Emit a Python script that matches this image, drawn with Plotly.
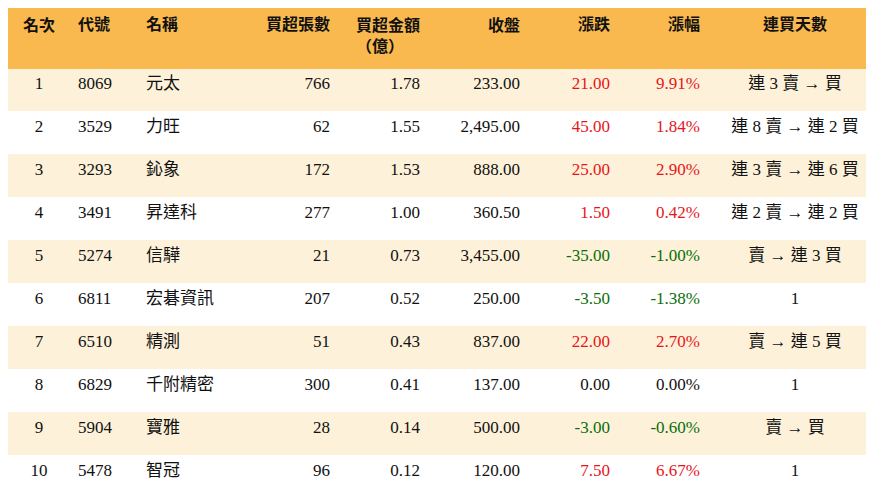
import plotly.graph_objects as go

rank = [1, 2, 3, 4, 5, 6, 7, 8, 9, 10]
code = ["8069", "3529", "3293", "3491", "5274", "6811", "6510", "6829", "5904", "5478"]
name = ["元太", "力旺", "鈊象", "昇達科", "信驊", "宏碁資訊", "精測", "千附精密", "寶雅", "智冠"]
net_lots = [766, 62, 172, 277, 21, 207, 51, 300, 28, 96]
net_amount = [1.78, 1.55, 1.53, 1.00, 0.73, 0.52, 0.43, 0.41, 0.14, 0.12]
close = [233.00, 2495.00, 888.00, 360.50, 3455.00, 250.00, 837.00, 137.00, 500.00, 120.00]
change = [21.00, 45.00, 25.00, 1.50, -35.00, -3.50, 22.00, 0.00, -3.00, 7.50]
pct = [9.91, 1.84, 2.90, 0.42, -1.00, -1.38, 2.70, 0.00, -0.60, 6.67]
streak = ["連 3 賣 → 買", "連 8 賣 → 連 2 買", "連 3 賣 → 連 6 買", "連 2 賣 → 連 2 買",
          "賣 → 連 3 買", "1", "賣 → 連 5 買", "1", "賣 → 買", "1"]

headers = ["名次", "代號", "名稱", "買超張數", "買超金額<br>（億）", "收盤", "漲跌", "漲幅", "連買天數"]


def tone(v):
    if v > 0:
        return "#e8141c"
    if v < 0:
        return "#0b6e0b"
    return "#111111"


chg_colors = [tone(v) for v in change]
black = ["#111111"] * len(rank)
fill = ["#fdf2d9" if i % 2 == 0 else "#ffffff" for i in range(len(rank))]
aligns = ["center", "left", "left", "right", "right", "right", "right", "right", "center"]
fnt = "Liberation Serif, Noto Sans CJK TC"

fig = go.Figure(go.Table(
    columnwidth=[62, 68, 100, 100, 90, 100, 90, 90, 174],
    header=dict(
        values=[f"<b>{h}</b>" for h in headers],
        fill_color="#f9b94f",
        line_color="#f9b94f",
        align=aligns,
        font=dict(family=fnt, size=16, color="#111111"),
        height=60,
    ),
    cells=dict(
        values=[rank, code, name, net_lots,
                [f"{v:.2f}" for v in net_amount],
                [f"{v:,.2f}" for v in close],
                [f"{v:.2f}" for v in change],
                [f"{v:.2f}%" for v in pct],
                streak],
        fill_color=[fill] * 9,
        line_color=[fill] * 9,
        align=aligns,
        font=dict(family=fnt, size=17,
                  color=[black, black, black, black, black, black, chg_colors, chg_colors, black]),
        height=43,
    ),
))
fig.update_layout(width=874, height=496, margin=dict(l=0, r=0, t=0, b=0),
                  paper_bgcolor="white")
fig.write_html("out.html")
